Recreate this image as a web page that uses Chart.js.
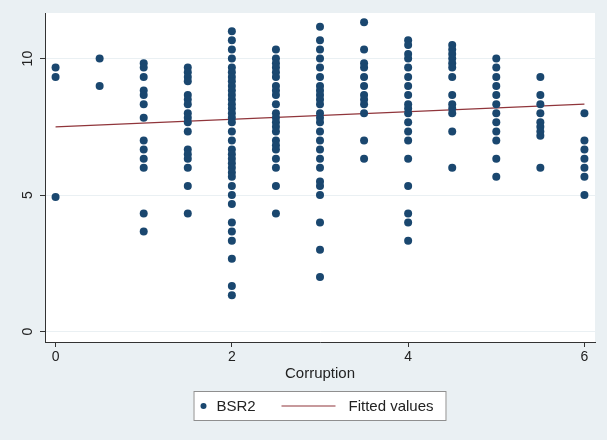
<!DOCTYPE html>
<html>
<head>
<meta charset="utf-8">
<script src="https://cdn.jsdelivr.net/npm/chart.js@4.4.1/dist/chart.umd.min.js"></script>
<style>
  html, body { margin: 0; padding: 0; background: #eaf0f3; }
</style>
</head>
<body>
<canvas id="myChart" width="607" height="440"></canvas>
<script>
// BSR2 values observed at each corruption level
const bsrAt0 = [9.67, 9.33, 4.93];
const bsrAt05 = [10.0, 9.0];
const bsrAt1 = [9.83, 9.67, 9.33, 8.83, 8.67, 8.33, 7.83, 7.0, 6.67, 6.33, 6.0, 4.33, 3.67];
const bsrAt15 = [9.67, 9.5, 9.33, 9.17, 8.67, 8.5, 8.33, 8.0, 7.83, 7.67, 7.33, 6.67, 6.5, 6.33, 6.0, 5.33, 4.33];
const bsrAt2 = [11.0, 10.67, 10.33, 10.0, 9.67, 9.5, 9.33, 9.17, 9.0, 8.83, 8.67, 8.5, 8.33, 8.17, 8.0, 7.83,
  7.67, 7.33, 7.0, 6.67, 6.5, 6.33, 6.17, 6.0, 5.83, 5.67, 5.33, 5.0, 4.67, 4.0, 3.67, 3.33, 2.67, 1.67, 1.33];
const bsrAt25 = [10.33, 10.0, 9.83, 9.67, 9.5, 9.33, 9.0, 8.83, 8.67, 8.33, 8.0, 7.83, 7.67, 7.5, 7.33, 7.0,
  6.83, 6.67, 6.33, 6.0, 5.33, 4.33];
const bsrAt3 = [11.17, 10.67, 10.33, 10.0, 9.67, 9.33, 9.0, 8.83, 8.67, 8.5, 8.33, 8.0, 7.83, 7.67, 7.33, 7.0,
  6.67, 6.33, 6.0, 5.5, 5.33, 5.0, 4.0, 3.0, 2.0];
const bsrAt35 = [11.33, 10.33, 9.83, 9.67, 9.33, 9.0, 8.67, 8.5, 8.33, 8.0, 7.0, 6.33];
const bsrAt4 = [10.67, 10.5, 10.17, 10.0, 9.67, 9.33, 9.0, 8.67, 8.33, 8.17, 8.0, 7.67, 7.33, 7.0, 6.33, 5.33,
  4.33, 4.0, 3.33];
const bsrAt45 = [10.5, 10.33, 10.17, 10.0, 9.83, 9.67, 9.33, 8.67, 8.33, 8.17, 8.0, 7.33, 6.0];
const bsrAt5 = [10.0, 9.67, 9.33, 9.0, 8.67, 8.33, 8.0, 7.67, 7.33, 7.0, 6.33, 5.67];
const bsrAt55 = [9.33, 8.67, 8.33, 8.0, 7.67, 7.5, 7.33, 7.17, 6.0];
const bsrAt6 = [8.0, 7.0, 6.67, 6.33, 6.0, 5.67, 5.0];

const corruptionLevels = [0, 0.5, 1, 1.5, 2, 2.5, 3, 3.5, 4, 4.5, 5, 5.5, 6];
const bsrByLevel = [bsrAt0, bsrAt05, bsrAt1, bsrAt15, bsrAt2, bsrAt25, bsrAt3, bsrAt35, bsrAt4, bsrAt45,
  bsrAt5, bsrAt55, bsrAt6];

// fitted line end points
const fitX = [0, 6];
const fitY = [7.5, 8.33];

const xTicks = [0, 2, 4, 6];
const yTicks = [0, 5, 10];

const FONT = '"Liberation Sans", Arial, Helvetica, sans-serif';
const NAVY = '#1a476f';
const MAROON = '#90353b';
const BG = '#eaf0f3';

const scatterPoints = [];
corruptionLevels.forEach((lvl, i) => {
  bsrByLevel[i].forEach(v => scatterPoints.push({ x: lvl, y: v }));
});
const fitPoints = fitX.map((x, i) => ({ x: x, y: fitY[i] }));

const backgroundPlugin = {
  id: 'stataBackground',
  beforeDraw(chart) {
    const ctx = chart.ctx;
    const a = chart.chartArea;
    ctx.save();
    ctx.fillStyle = BG;
    ctx.fillRect(0, 0, chart.width, chart.height);
    ctx.fillStyle = '#ffffff';
    ctx.fillRect(a.left, a.top, a.right - a.left, a.bottom - a.top);
    ctx.restore();
  }
};

// legend drawn in a boxed frame under the axis title
const legendPlugin = {
  id: 'boxedLegend',
  afterDraw(chart) {
    const ctx = chart.ctx;
    const a = chart.chartArea;
    const cx = (a.left + a.right) / 2;
    const w = 253, h = 30;
    const left = cx - w / 2;
    const top = 391;
    const mid = top + h / 2;
    ctx.save();
    ctx.fillStyle = '#ffffff';
    ctx.fillRect(left, top, w, h);
    ctx.strokeStyle = '#8f8f8f';
    ctx.lineWidth = 1;
    ctx.strokeRect(left + 0.5, top + 0.5, w - 1, h - 1);

    ctx.fillStyle = NAVY;
    ctx.beginPath();
    ctx.arc(left + 10, mid, 3, 0, Math.PI * 2);
    ctx.fill();

    ctx.strokeStyle = MAROON;
    ctx.lineWidth = 1.2;
    ctx.beginPath();
    ctx.moveTo(left + 88, mid);
    ctx.lineTo(left + 142, mid);
    ctx.stroke();

    ctx.fillStyle = '#222';
    ctx.font = '15px ' + FONT;
    ctx.textBaseline = 'middle';
    ctx.textAlign = 'left';
    ctx.fillText('BSR2', left + 23, mid + 1);
    ctx.fillText('Fitted values', left + 155, mid + 1);
    ctx.restore();
  }
};

new Chart(document.getElementById('myChart'), {
  type: 'scatter',
  data: {
    datasets: [
      {
        label: 'BSR2',
        data: scatterPoints,
        backgroundColor: NAVY,
        borderWidth: 0,
        pointRadius: 4,
        pointHoverRadius: 4
      },
      {
        type: 'line',
        label: 'Fitted values',
        data: fitPoints,
        borderColor: MAROON,
        borderWidth: 1.3,
        pointRadius: 0,
        fill: false
      }
    ]
  },
  options: {
    responsive: false,
    animation: false,
    events: [],
    layout: { padding: { top: 13, right: 12, bottom: 56, left: 0 } },
    plugins: {
      legend: { display: false },
      tooltip: { enabled: false }
    },
    scales: {
      x: {
        type: 'linear',
        min: -0.12,
        max: 6.12,
        afterBuildTicks: s => { s.ticks = xTicks.map(v => ({ value: v })); },
        afterFit: s => { s.height = 42; },
        ticks: { font: { size: 14, family: FONT }, color: '#222', padding: 2, maxRotation: 0 },
        grid: { drawOnChartArea: false, tickLength: 5, tickColor: '#333' },
        border: { color: '#333', width: 1 },
        title: {
          display: true,
          text: 'Corruption',
          font: { size: 15, family: FONT },
          color: '#222',
          padding: { top: 0, bottom: 1 }
        }
      },
      y: {
        type: 'linear',
        min: -0.38,
        max: 11.67,
        afterBuildTicks: s => { s.ticks = yTicks.map(v => ({ value: v })); },
        afterFit: s => { s.width = 45; },
        ticks: {
          font: { size: 14, family: FONT },
          color: '#222',
          minRotation: 90,
          maxRotation: 90,
          crossAlign: 'center',
          padding: 4
        },
        grid: { color: BG, tickLength: 5, tickColor: '#333' },
        border: { color: '#333', width: 1 }
      }
    }
  },
  plugins: [backgroundPlugin, legendPlugin]
});
</script>
</body>
</html>
